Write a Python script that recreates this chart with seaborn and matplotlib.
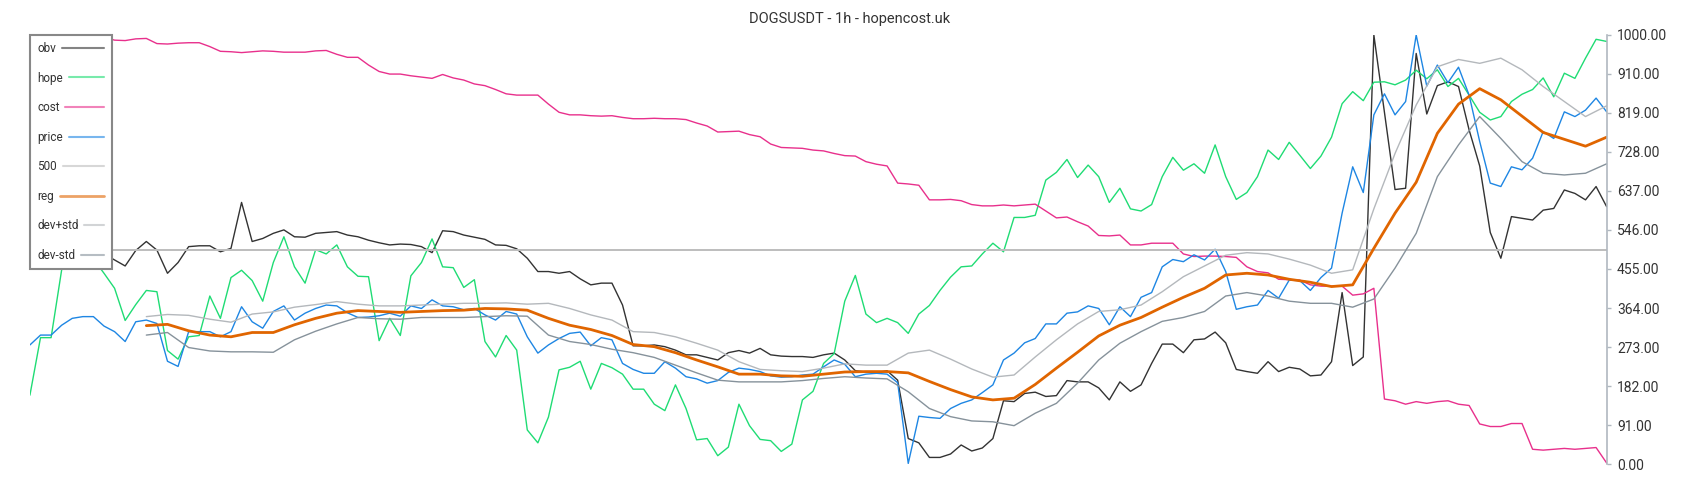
import numpy as np
import matplotlib
matplotlib.use("Agg")
import matplotlib.pyplot as plt
import seaborn as sns

# ---- data (bar index, step 2 for noisy series) ----
price = [278, 301, 301, 324, 340, 344, 344, 322, 309, 286,
         332, 336, 328, 240, 228, 309, 309, 309, 297, 309,
         367, 332, 317, 356, 369, 336, 352, 363, 371, 369,
         353, 342, 343, 346, 352, 345, 369, 363, 383, 369,
         367, 360, 363, 348, 336, 356, 350, 297, 259, 278,
         293, 305, 308, 276, 295, 290, 235, 221, 212, 212,
         239, 224, 204, 199, 189, 195, 214, 224, 221, 216,
         206, 203, 204, 208, 210, 227, 243, 233, 204, 210,
         212, 210, 190, 2, 112, 109, 107, 130, 142, 150,
         167, 185, 243, 259, 283, 293, 327, 327, 352, 355,
         369, 363, 325, 367, 344, 389, 400, 460, 477, 472,
         488, 476, 501, 449, 361, 367, 371, 405, 387, 429,
         428, 405, 435, 457, 585, 693, 633, 814, 863, 814,
         845, 1000, 881, 930, 889, 925, 860, 752, 655, 647,
         693, 686, 713, 775, 759, 821, 810, 825, 853, 821]

obv = [495, 497, 500, 498, 495, 493, 495, 490, 476, 462,
       498, 519, 499, 445, 470, 507, 509, 509, 495, 503,
       610, 519, 526, 538, 546, 530, 529, 538, 540, 542,
       534, 530, 522, 516, 511, 513, 512, 507, 493, 544,
       542, 534, 529, 524, 511, 510, 502, 480, 449, 449,
       445, 449, 432, 418, 422, 422, 371, 276, 276, 278,
       274, 266, 255, 255, 249, 243, 260, 265, 259, 270,
       255, 252, 251, 251, 249, 255, 259, 243, 218, 215,
       213, 218, 196, 60, 50, 16, 16, 24, 45, 31,
       38, 60, 148, 146, 165, 168, 158, 160, 195, 192,
       192, 178, 150, 192, 170, 185, 235, 280, 280, 260,
       290, 292, 308, 283, 221, 216, 212, 239, 216, 226,
       222, 206, 208, 239, 400, 230, 250, 1000, 820, 640,
       643, 957, 816, 882, 891, 880, 779, 695, 540, 480,
       577, 573, 569, 592, 596, 639, 631, 616, 647, 600]

hope = [161, 295, 295, 453, 510, 475, 478, 445, 410, 335,
        372, 405, 402, 265, 245, 297, 300, 392, 340, 435,
        452, 428, 380, 470, 530, 460, 422, 500, 490, 511,
        460, 438, 437, 288, 340, 300, 439, 470, 525, 460,
        458, 412, 430, 286, 250, 300, 266, 80, 50, 110,
        220, 226, 240, 175, 235, 225, 210, 175, 175, 140,
        125, 185, 130, 57, 60, 20, 40, 140, 90, 58,
        55, 30, 47, 150, 170, 235, 258, 380, 440, 350,
        330, 340, 330, 305, 350, 370, 405, 436, 460, 462,
        490, 515, 495, 575, 575, 580, 662, 680, 710, 668,
        697, 670, 610, 643, 595, 590, 605, 670, 715, 685,
        700, 678, 744, 670, 617, 633, 670, 732, 710, 750,
        720, 689, 718, 762, 840, 868, 847, 890, 891, 884,
        895, 918, 898, 919, 880, 899, 860, 820, 802, 810,
        845, 862, 873, 900, 856, 911, 899, 946, 990, 985]

cost = [999, 999, 999, 999, 998, 998, 997, 995, 988, 987,
        991, 992, 980, 979, 981, 982, 982, 973, 962, 961,
        959, 961, 963, 962, 960, 960, 960, 963, 964, 955,
        948, 948, 930, 915, 909, 909, 905, 902, 899, 908,
        900, 895, 886, 882, 873, 863, 860, 860, 860, 839,
        820, 814, 814, 812, 811, 812, 808, 805, 805, 806,
        805, 805, 803, 795, 788, 774, 775, 776, 768, 763,
        746, 738, 737, 736, 732, 730, 724, 719, 718, 705,
        699, 695, 655, 653, 650, 616, 616, 617, 614, 605,
        602, 602, 604, 602, 604, 606, 590, 574, 576, 565,
        555, 533, 532, 534, 511, 511, 515, 515, 515, 490,
        484, 485, 485, 484, 482, 460, 449, 446, 431, 430,
        429, 418, 415, 415, 415, 394, 397, 410, 152, 148,
        140, 146, 142, 146, 148, 140, 137, 94, 88, 88,
        95, 95, 35, 33, 35, 37, 35, 37, 39, 3]

# smooth series start at bar 22, step 4
reg = [323, 326, 311, 301, 297, 307, 307, 325, 340, 352,
       358, 356, 354, 356, 358, 359, 363, 362, 359, 340,
       324, 314, 300, 279, 274, 260, 243, 227, 210, 210,
       206, 205, 210, 215, 216, 216, 213, 193, 174, 157,
       150, 154, 186, 224, 261, 299, 324, 342, 366, 389,
       410, 441, 445, 441, 431, 424, 414, 418, 503, 585,
       657, 771, 839, 875, 849, 811, 773, 757, 741, 762]

dev_plus = [344, 349, 347, 338, 331, 350, 355, 366, 372, 379,
            373, 369, 369, 371, 373, 375, 375, 376, 373, 375,
            363, 348, 336, 309, 307, 297, 282, 266, 239, 221,
            218, 216, 224, 234, 231, 231, 259, 266, 245, 222,
            203, 208, 250, 290, 327, 356, 360, 371, 402, 437,
            462, 487, 493, 490, 478, 464, 445, 453, 595, 724,
            837, 926, 943, 934, 946, 919, 880, 845, 810, 835]

dev_minus = [301, 307, 272, 264, 262, 262, 261, 290, 310, 327,
             342, 339, 338, 342, 342, 342, 344, 346, 345, 301,
             286, 279, 268, 260, 249, 231, 213, 196, 192, 192,
             192, 195, 200, 204, 201, 199, 169, 130, 111, 101,
             99, 90, 119, 142, 189, 243, 282, 309, 333, 342,
             356, 392, 400, 392, 380, 375, 375, 366, 385, 457,
             538, 670, 744, 810, 759, 705, 678, 674, 678, 700]

level_500 = 500
yticks = [0, 91, 182, 273, 364, 455, 546, 637, 728, 819, 910, 1000]

x_main = 2 * np.arange(len(price))
x_smooth = 22 + 4 * np.arange(len(reg))

# ---- style ----
sns.set_theme(style="white")
plt.rcParams['font.family'] = ['Roboto', 'DejaVu Sans']

fig = plt.figure(figsize=(17, 5), dpi=100)
ax = fig.add_axes([0.0176, 0.0714, 0.9275, 0.8586])

sns.lineplot(x=x_main, y=obv, ax=ax, color='#333333', lw=1.0, label='obv')
sns.lineplot(x=x_main, y=hope, ax=ax, color='#1fdc74', lw=1.0, label='hope')
sns.lineplot(x=x_main, y=cost, ax=ax, color='#e8308c', lw=1.0, label='cost')
sns.lineplot(x=x_main, y=price, ax=ax, color='#1e86e3', lw=1.0, label='price')
sns.lineplot(x=x_main, y=[level_500] * len(x_main), ax=ax, color='#bdbdbd', lw=1.4, label='500')
sns.lineplot(x=x_smooth, y=reg, ax=ax, color='#e06500', lw=2.0, label='reg')
sns.lineplot(x=x_smooth, y=dev_plus, ax=ax, color='#b4b8bc', lw=1.0, label='dev+std')
sns.lineplot(x=x_smooth, y=dev_minus, ax=ax, color='#86929b', lw=1.0, label='dev-std')

ax.set_xlim(0, x_main[-1])
ax.set_ylim(0, 1000)
ax.set_xticks([])
ax.set_xlabel('')
ax.set_ylabel('')

# right value axis only
for side in ['left', 'top', 'bottom']:
    ax.spines[side].set_visible(False)
ax.spines['right'].set_color('#b0b8c0')
ax.spines['right'].set_linewidth(1.2)
ax.yaxis.tick_right()
ax.set_yticks(yticks)
ax.set_yticklabels([f"{v:.2f}" for v in yticks])
ax.tick_params(axis='y', which='major', direction='out', length=3, width=1.0,
               color='#b0b8c0', labelsize=10, labelcolor='#333333', pad=4.5, right=True)

leg = ax.legend(loc='upper left', bbox_to_anchor=(0, 1.0), borderaxespad=0,
                frameon=True, fancybox=False, edgecolor='#888888', framealpha=1,
                facecolor='white', markerfirst=False, labelspacing=1.4,
                handlelength=1.7, handletextpad=0.5, borderpad=0.6, fontsize=8.5)
leg.get_frame().set_linewidth(1.5)
# labels flush left, handles stretched so they all end at the same x
for col in leg._legend_handle_box.get_children():
    col.align = "left"
for t in leg.get_texts():
    t.set_color('#333333')
fig.canvas.draw()
renderer = fig.canvas.get_renderer()
widths = [t.get_window_extent(renderer).width for t in leg.get_texts()]
wmax = max(widths)
for lh, w in zip(leg.get_lines(), widths):
    xd = np.asarray(lh.get_xdata(), dtype=float)
    lh.set_xdata(np.linspace(xd[0], xd[-1] + (wmax - w) * 72 / fig.dpi, len(xd)))
    lh.set_alpha(0.6)
    lh.set_linewidth(max(lh.get_linewidth(), 1.5))

fig.text(0.5, 0.962, "DOGSUSDT - 1h - hopencost.uk", ha='center', va='center',
         fontsize=10.5, color='#333333')

fig.savefig("out.png", dpi=100)
